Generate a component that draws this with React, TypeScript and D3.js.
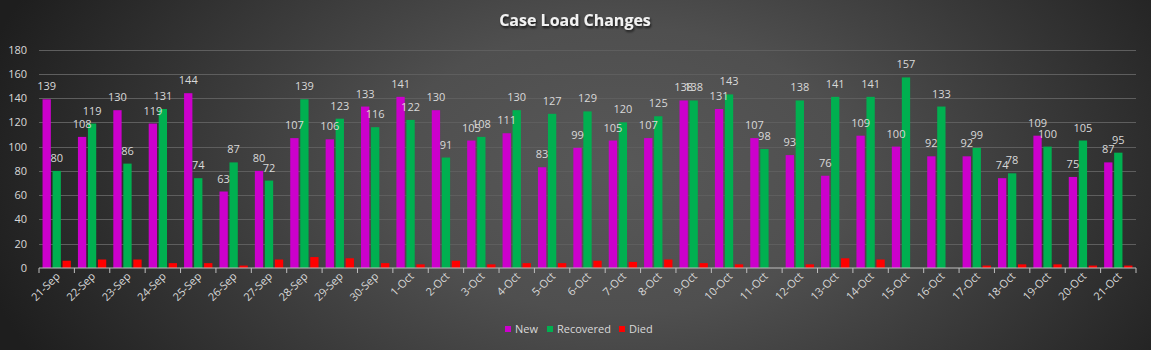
import { useRef, useEffect } from 'react';
import * as d3 from 'd3';

const dates = [
  "21-Sep", "22-Sep", "23-Sep", "24-Sep", "25-Sep", "26-Sep", "27-Sep", "28-Sep", "29-Sep", "30-Sep",
  "1-Oct", "2-Oct", "3-Oct", "4-Oct", "5-Oct", "6-Oct", "7-Oct", "8-Oct", "9-Oct", "10-Oct",
  "11-Oct", "12-Oct", "13-Oct", "14-Oct", "15-Oct", "16-Oct", "17-Oct", "18-Oct", "19-Oct", "20-Oct", "21-Oct"
];
const newCases = [139, 108, 130, 119, 144, 63, 80, 107, 106, 133, 141, 130, 105, 111, 83, 99, 105, 107, 138, 131, 107, 93, 76, 109, 100, 92, 92, 74, 109, 75, 87];
const recovered = [80, 119, 86, 131, 74, 87, 72, 139, 123, 116, 122, 91, 108, 130, 127, 129, 120, 125, 138, 143, 98, 138, 141, 141, 157, 133, 99, 78, 100, 105, 95];
const died = [6, 7, 7, 4, 4, 2, 7, 9, 8, 4, 3, 6, 3, 4, 4, 6, 5, 7, 4, 3, 0, 3, 8, 7, 0, 0, 2, 3, 3, 2, 2];

const yTicks = [0, 20, 40, 60, 80, 100, 120, 140, 160, 180];
const seriesNames = ["New", "Recovered", "Died"];
const seriesColors = ["#cc00cc", "#00b050", "#ff0000"];

const FONT = "'Open Sans', 'Liberation Sans', sans-serif";
const TEXT = "#d9d9d9";

export default function App() {
  const svgRef = useRef<SVGSVGElement>(null);

  useEffect(() => {
    const width = 1151;
    const height = 350;
    const margin = { top: 49.5, right: 15, bottom: 82, left: 39 };

    const svg = d3.select(svgRef.current);
    svg.selectAll("*").remove();

    // background gradient (dark edges, lighter middle)
    const defs = svg.append("defs");
    const grad = defs.append("radialGradient")
      .attr("id", "bg")
      .attr("gradientUnits", "userSpaceOnUse")
      .attr("cx", 620).attr("cy", 170).attr("r", 660)
      .attr("gradientTransform", "translate(620,170) scale(1,0.62) translate(-620,-170)");
    grad.append("stop").attr("offset", "0").attr("stop-color", "#585858");
    grad.append("stop").attr("offset", "0.35").attr("stop-color", "#4f4f4f");
    grad.append("stop").attr("offset", "1").attr("stop-color", "#1e1e1e");

    const shadow = defs.append("filter").attr("id", "shadow");
    shadow.append("feDropShadow")
      .attr("dx", 1).attr("dy", 2).attr("stdDeviation", 1.2)
      .attr("flood-color", "#000").attr("flood-opacity", 0.7);

    svg.append("rect").attr("width", width).attr("height", height).attr("fill", "url(#bg)");

    // scales
    const x0 = d3.scaleBand()
      .domain(dates)
      .range([margin.left, width - margin.right])
      .paddingInner(0.2)
      .paddingOuter(0.1);

    const x1 = d3.scaleBand()
      .domain(seriesNames)
      .range([0, x0.bandwidth()])
      .paddingInner(0.17);

    const y = d3.scaleLinear()
      .domain([0, 180])
      .range([height - margin.bottom - 0.5 + 0.5, margin.top]);

    const color = d3.scaleOrdinal<string>().domain(seriesNames).range(seriesColors);

    // gridlines
    svg.append("g")
      .selectAll("line")
      .data(yTicks.filter(t => t > 0))
      .join("line")
      .attr("x1", margin.left)
      .attr("x2", width - margin.right)
      .attr("y1", d => Math.round(y(d)) + 0.5)
      .attr("y2", d => Math.round(y(d)) + 0.5)
      .attr("stroke", "#5e5e5e")
      .attr("stroke-width", 1);

    // y tick labels
    svg.append("g")
      .selectAll("text")
      .data(yTicks)
      .join("text")
      .attr("x", 27)
      .attr("y", d => y(d) + 4)
      .attr("text-anchor", "end")
      .attr("fill", TEXT)
      .style("font-family", FONT)
      .style("font-size", "11px")
      .text(d => d);

    // bars
    const rows = dates.map((d, i) => ({
      date: d,
      values: [
        { key: "New", value: newCases[i] },
        { key: "Recovered", value: recovered[i] },
        { key: "Died", value: died[i] },
      ],
    }));

    const groups = svg.append("g")
      .selectAll("g")
      .data(rows)
      .join("g")
      .attr("transform", d => `translate(${x0(d.date)},0)`);

    groups.selectAll("rect")
      .data(d => d.values)
      .join("rect")
      .attr("x", d => x1(d.key)!)
      .attr("y", d => y(d.value))
      .attr("width", x1.bandwidth())
      .attr("height", d => y(0) - y(d.value))
      .attr("fill", d => color(d.key));

    // data labels (New and Recovered only)
    groups.selectAll("text")
      .data(d => d.values.filter(v => v.key !== "Died"))
      .join("text")
      .attr("x", d => x1(d.key)! + x1.bandwidth() / 2)
      .attr("y", d => y(d.value) - 9)
      .attr("text-anchor", "middle")
      .attr("fill", TEXT)
      .style("font-family", FONT)
      .style("font-size", "11px")
      .text(d => d.value);

    // x axis line + ticks at category boundaries
    const axisY = y(0);
    const step = x0.step();
    svg.append("line")
      .attr("x1", margin.left)
      .attr("x2", width - margin.right)
      .attr("y1", axisY)
      .attr("y2", axisY)
      .attr("stroke", "#bfbfbf")
      .attr("stroke-width", 1.2);

    const boundaries = dates.map(d => x0(d)! - step * 0.1).concat([width - margin.right]);
    svg.append("g")
      .selectAll("line")
      .data(boundaries)
      .join("line")
      .attr("x1", d => d)
      .attr("x2", d => d)
      .attr("y1", axisY)
      .attr("y2", axisY + 5)
      .attr("stroke", "#bfbfbf")
      .attr("stroke-width", 1);

    // x labels rotated
    svg.append("g")
      .selectAll("text")
      .data(dates)
      .join("text")
      .attr("transform", d => `translate(${x0(d)! + x0.bandwidth() / 2 + 4},${axisY + 9}) rotate(-45)`)
      .attr("text-anchor", "end")
      .attr("fill", TEXT)
      .style("font-family", FONT)
      .style("font-size", "11px")
      .text(d => d);

    // title
    svg.append("text")
      .attr("x", 575)
      .attr("y", 26)
      .attr("text-anchor", "middle")
      .attr("fill", "#f2f2f2")
      .attr("filter", "url(#shadow)")
      .style("font-family", FONT)
      .style("font-size", "16px")
      .style("font-weight", "bold")
      .text("Case Load Changes");

    // legend
    const legendX = [505, 547, 619];
    const legend = svg.append("g")
      .selectAll("g")
      .data(seriesNames)
      .join("g")
      .attr("transform", (d, i) => `translate(${legendX[i]},326)`);
    legend.append("rect")
      .attr("width", 6)
      .attr("height", 6)
      .attr("fill", d => color(d));
    legend.append("text")
      .attr("x", 10)
      .attr("y", 7)
      .attr("fill", TEXT)
      .style("font-family", FONT)
      .style("font-size", "11px")
      .text(d => d);
  }, []);

  return (
    <svg
      ref={svgRef}
      width={1151}
      height={350}
      style={{ position: 'absolute', left: 0, top: 0, display: 'block' }}
    />
  );
}
